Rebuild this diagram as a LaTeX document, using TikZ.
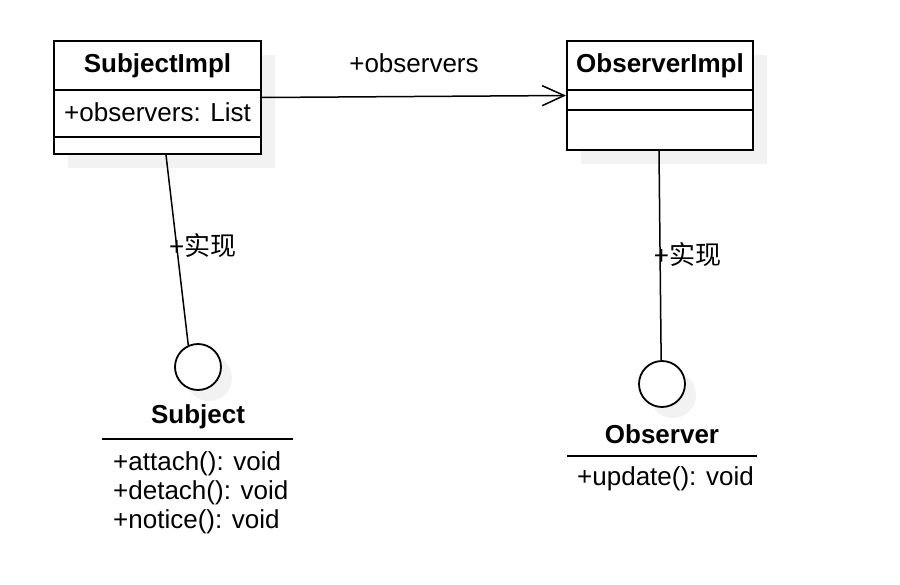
\documentclass[tikz,border=0pt]{standalone}
\usepackage{fontspec}
\setmainfont{Liberation Sans}
\newfontfamily\cjkfont{Noto Sans CJK SC}
\usetikzlibrary{shapes,arrows.meta,positioning,calc,shadows}
\definecolor{shadowgray}{RGB}{242,242,242}

\begin{document}
\begin{tikzpicture}[x=1pt,y=-1pt,
    umlbox/.style={draw, line width=2pt, fill=white, inner sep=0pt,
      drop shadow={shadow xshift=14pt, shadow yshift=-14pt, fill=shadowgray, opacity=1}},
    iface/.style={circle, draw, line width=1.8pt, fill=white, minimum size=46pt, inner sep=0pt,
      drop shadow={shadow xshift=11pt, shadow yshift=-11pt, fill=shadowgray, opacity=1}},
    title/.style={font=\fontsize{26}{30}\selectfont\bfseries, inner sep=0pt},
    member/.style={font=\fontsize{26}{30}\selectfont, inner sep=0pt, anchor=west},
    sep/.style={line width=2pt},
    link/.style={line width=1.5pt},
  ]
  \useasboundingbox (0,0) rectangle (900,584);

  % implementation classes
  \node[umlbox, minimum width=207pt, minimum height=113pt, anchor=north west] (subjImpl) at (53,40) {};
  \draw[sep] ([yshift=-50pt]subjImpl.north west) -- ([yshift=-50pt]subjImpl.north east)
             ([yshift=-97pt]subjImpl.north west) -- ([yshift=-97pt]subjImpl.north east);
  \node[title] (subjImplName) at ($(subjImpl.north)+(0,26)$) {SubjectImpl};
  \node[member] (subjImplAttr) at (64,112) {+observers: List};

  \node[umlbox, minimum width=186pt, minimum height=109pt, anchor=north west] (obsImpl) at (566,40) {};
  \draw[sep] ([yshift=-50pt]obsImpl.north west) -- ([yshift=-50pt]obsImpl.north east)
             ([yshift=-70pt]obsImpl.north west) -- ([yshift=-70pt]obsImpl.north east);
  \node[title] (obsImplName) at ($(obsImpl.north)+(0,26)$) {ObserverImpl};

  % interfaces
  \node[iface] (subject) at (198,367) {};
  \node[title] (subjectName) at (198,417) {Subject};
  \draw[line width=1.6pt] (102,439) -- (293,439);
  \node[member] (attach) at (113,464) {+attach(): void};
  \node[member] (detach) at (113,493) {+detach(): void};
  \node[member] (notice) at (113,522) {+notice(): void};

  \node[iface] (observer) at (662,384) {};
  \node[title] (observerName) at (662,434) {Observer};
  \draw[line width=1.6pt] (567,456) -- (757,456);
  \node[member] (update) at (577,479) {+update(): void};

  % connectors
  \draw[link, -{Straight Barb[length=22pt,width=20pt,line width=1.5pt]}] (subjImpl.east) -- (obsImpl.west)
    node[midway, above=23pt, font=\fontsize{26}{30}\selectfont, inner sep=0pt] {+observers};
  \draw[link] ([xshift=8.5pt]subjImpl.south) -- (subject.114)
    node[member, pos=0.47, xshift=-8pt, yshift=-1pt] {+\cjkfont 实现};
  \draw[link] ([xshift=-1pt]obsImpl.south) -- (observer.92)
    node[member, pos=0.49, xshift=-7pt, yshift=-1pt] {+\cjkfont 实现};
\end{tikzpicture}
\end{document}
